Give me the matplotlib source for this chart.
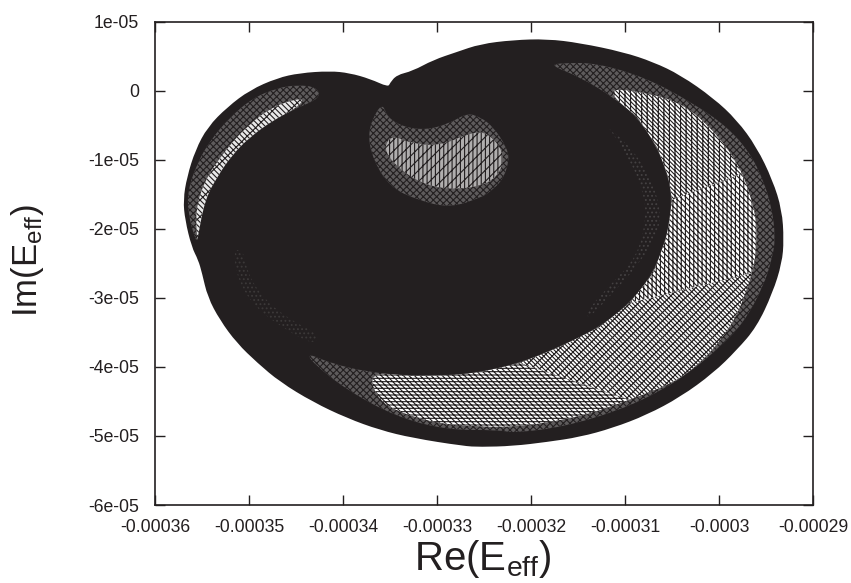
import numpy as np
import matplotlib
matplotlib.use('Agg')
import matplotlib.pyplot as plt
from matplotlib.path import Path
from matplotlib.patches import PathPatch

outer_re = [-33.52, -33.50, -33.43, -33.26, -33.04, -32.79, -32.54, -32.19, -31.83, -31.48, -31.02, -30.70, -30.41, -30.06, -29.81, -29.60, -29.43, -29.33, -29.31, -29.33, -29.43, -29.60, -29.81, -30.06, -30.41, -30.77, -31.13, -31.48, -31.83, -32.19, -32.54, -32.72, -33.26, -33.61, -33.96, -34.32, -34.67, -34.91, -35.13, -35.31, -35.44, -35.50, -35.54, -35.61, -35.68, -35.70, -35.66, -35.57, -35.44, -35.23, -34.99, -34.70, -34.46, -34.14, -33.93, -33.71]
outer_im = [0.052, 0.11, 0.225, 0.283, 0.443, 0.558, 0.674, 0.732, 0.747, 0.689, 0.558, 0.414, 0.225, -0.108, -0.426, -0.817, -1.295, -1.729, -2.163, -2.496, -2.931, -3.423, -3.756, -4.089, -4.436, -4.697, -4.885, -5.016, -5.088, -5.146, -5.160, -5.146, -5.030, -4.914, -4.741, -4.509, -4.219, -3.944, -3.655, -3.322, -2.989, -2.641, -2.453, -2.265, -1.874, -1.584, -1.251, -0.860, -0.527, -0.238, 0.008, 0.182, 0.254, 0.283, 0.254, 0.168]

left_in_re = [-34.24, -34.49, -34.74, -34.99, -35.18, -35.34, -35.47, -35.55]
left_in_im = [-0.108, -0.252, -0.426, -0.672, -0.933, -1.251, -1.584, -2.163]
left_out_re = [-34.28, -34.49, -34.70, -34.96, -35.20, -35.41, -35.55, -35.65, -35.65, -35.57]
left_out_im = [0.052, 0.081, 0.037, -0.108, -0.383, -0.716, -1.049, -1.440, -1.773, -2.163]
left_mid_re = [-34.40, -34.72, -35.01, -35.25, -35.47, -35.57, -35.55]
left_mid_im = [-0.093, -0.209, -0.498, -0.860, -1.294, -1.729, -2.163]

bowl_re = [-33.57, -33.53, -33.36, -33.11, -32.86, -32.68, -32.54, -32.40, -32.26, -32.23, -32.30, -32.44, -32.52, -32.86, -33.21, -33.50, -33.68, -33.74, -33.64]
bowl_im = [-0.209, -0.383, -0.527, -0.571, -0.470, -0.325, -0.383, -0.527, -0.817, -1.005, -1.295, -1.469, -1.541, -1.700, -1.584, -1.396, -1.005, -0.614, -0.281]
core_re = [-33.48, -33.29, -32.97, -32.65, -32.47, -32.30, -32.30, -32.46, -32.86, -33.18, -33.45, -33.57]
core_im = [-0.643, -0.759, -0.803, -0.614, -0.600, -0.860, -1.121, -1.367, -1.440, -1.338, -1.078, -0.831]

right_in_re = [-31.80, -31.48, -31.13, -30.87, -30.66, -30.54, -30.50, -30.54, -30.57, -30.70, -30.95, -31.27, -31.70, -32.12, -32.54, -32.83, -33.26, -33.74, -34.14, -34.38]
right_in_im = [0.370, 0.196, -0.093, -0.383, -0.817, -1.251, -1.584, -1.975, -2.163, -2.641, -3.076, -3.423, -3.713, -3.944, -4.075, -4.118, -4.132, -4.075, -3.944, -3.800]
right_out_re = [-31.66, -31.30, -30.77, -30.28, -29.91, -29.67, -29.53, -29.44, -29.40, -29.43, -29.53, -29.74, -29.99, -30.28, -30.60, -31.05, -31.66, -32.19, -32.33, -32.89, -33.43, -33.96, -34.32]
right_out_im = [0.399, 0.399, 0.182, -0.180, -0.527, -0.904, -1.295, -1.686, -2.120, -2.410, -2.844, -3.365, -3.713, -4.046, -4.335, -4.625, -4.871, -4.958, -4.914, -4.914, -4.726, -4.335, -3.944]

bright_re = [-31.13, -30.41, -29.99, -29.74, -29.60, -29.60, -29.64, -29.81, -30.06, -30.41, -30.95, -31.48, -32.19, -32.89, -33.26, -33.61]
bright_im = [0.052, -0.137, -0.672, -1.193, -1.830, -2.265, -2.641, -3.278, -3.756, -4.190, -4.480, -4.726, -4.885, -4.842, -4.726, -4.523]

speck_r_re = [-31.19, -30.98, -30.77, -30.63, -30.63, -30.84, -31.13, -31.40, -31.40, -31.16, -30.87, -30.77, -30.81, -30.95, -31.13]
speck_r_im = [-0.527, -0.759, -1.150, -1.628, -2.019, -2.496, -2.931, -3.322, -3.177, -2.815, -2.410, -1.830, -1.440, -1.005, -0.614]
speck_l_re = [-35.17, -35.12, -34.94, -34.64, -34.32, -34.24, -34.56, -34.83, -35.01, -35.06]
speck_l_im = [-2.308, -2.743, -3.134, -3.437, -3.684, -3.539, -3.322, -3.032, -2.670, -2.308]

xticks = [-0.00036, -0.00035, -0.00034, -0.00033, -0.00032, -0.00031, -0.0003, -0.00029]
xlabels = ['-0.00036', '-0.00035', '-0.00034', '-0.00033', '-0.00032', '-0.00031', '-0.0003', '-0.00029']
yticks = [1e-05, 0, -1e-05, -2e-05, -3e-05, -4e-05, -5e-05, -6e-05]
ylabels = ['1e-05', '0', '-1e-05', '-2e-05', '-3e-05', '-4e-05', '-5e-05', '-6e-05']

DARK = '#231f20'
EINHEIT = 1e-5

plt.rcParams['font.family'] = ['Liberation Sans', 'DejaVu Sans']
plt.rcParams['mathtext.fontset'] = 'custom'
plt.rcParams['mathtext.rm'] = 'Liberation Sans'
plt.rcParams['hatch.linewidth'] = 0.8


def glatt(re, im):
    p = np.column_stack([re, im]) * EINHEIT
    start = (p[-1] + p[0]) / 2
    verts = [start]
    codes = [Path.MOVETO]
    for i in range(len(p)):
        verts.append(p[i])
        verts.append((p[i] + p[(i + 1) % len(p)]) / 2)
        codes.extend([Path.CURVE3, Path.CURVE3])
    return Path(verts, codes)


def flaeche(ax, re, im, face, hatch=None, edge=DARK):
    patch = PathPatch(glatt(re, im), facecolor=face, edgecolor=edge, hatch=hatch, linewidth=0)
    ax.add_patch(patch)
    return patch


def sichel(ax, in_re, in_im, out_re, out_im, face, hatch):
    '''Sichel zwischen innerem und aeusserem Rand'''
    return flaeche(ax, list(out_re) + list(in_re)[::-1], list(out_im) + list(in_im)[::-1], face, hatch)


fig = plt.figure(figsize=(8.51, 5.83), dpi=100)
ax = fig.add_axes([155 / 851, 1 - 505 / 583, 658 / 851, 483.5 / 583])

flaeche(ax, outer_re, outer_im, DARK)

# Netz am Rand dichter, deshalb mehrere Lagen
sichel(ax, right_in_re, right_in_im, right_out_re, right_out_im, '#5e5b5c', 'xxxxx')
sichel(ax, left_in_re, left_in_im, left_out_re, left_out_im, '#5e5b5c', 'xxxxx')
sichel(ax, left_in_re[1:], left_in_im[1:], left_mid_re, left_mid_im, '#e8e8e8', '\\\\\\\\xx')
flaeche(ax, bowl_re, bowl_im, '#5e5b5c', 'xxxxx')
flaeche(ax, core_re, core_im, '#b0aeae', '||||///')

# helle Stuecke der rechten Sichel: (innen von, innen bis, aussen von, aussen bis, hatch)
hell = sichel(ax, right_in_re[2:18], right_in_im[2:18], bright_re, bright_im, 'none', None)
stuecke = [(2, 7, 0, 4, '\\\\\\\\\\\\\\\\|||'),
           (6, 11, 3, 7, '||||\\\\\\\\\\\\'),
           (10, 14, 6, 11, '\\\\\\\\\\\\\\\\////'),
           (13, 18, 10, 16, '-----\\\\\\\\\\\\')]
for i0, i1, o0, o1, muster in stuecke:
    x = np.array(bright_re[o0:o1] + right_in_re[i0:i1][::-1]) * EINHEIT
    y = np.array(bright_im[o0:o1] + right_in_im[i0:i1][::-1]) * EINHEIT
    teil = ax.fill(x, y, facecolor='#ffffff', edgecolor=DARK, hatch=muster, linewidth=0)[0]
    teil.set_clip_path(hell)

flaeche(ax, speck_r_re, speck_r_im, DARK, '....', '#454243')
flaeche(ax, speck_l_re, speck_l_im, DARK, '....', '#3c3939')

ax.set_xlim(-0.00036, -0.00029)
ax.set_ylim(-6e-05, 1e-05)
ax.set_xticks(xticks)
ax.set_xticklabels(xlabels)
ax.set_yticks(yticks)
ax.set_yticklabels(ylabels)
ax.tick_params(direction='in', length=7.2, width=1.0, top=True, right=True, color=DARK,
               labelcolor=DARK, labelsize=12.7)
ax.tick_params(axis='x', pad=10)
ax.tick_params(axis='y', pad=11.5)
for seite in ax.spines.values():
    seite.set_linewidth(1.2)
    seite.set_color(DARK)

fig.text(483 / 851, 1 - 559 / 583, r'$\mathrm{Re(E_{eff})}$', fontsize=29, color=DARK, ha='center', va='center')
fig.text(27 / 851, 1 - 260 / 583, r'$\mathrm{Im(E_{eff})}$', fontsize=25, color=DARK, ha='center', va='center', rotation=90)

fig.savefig('out.png', dpi=100)
plt.close(fig)
